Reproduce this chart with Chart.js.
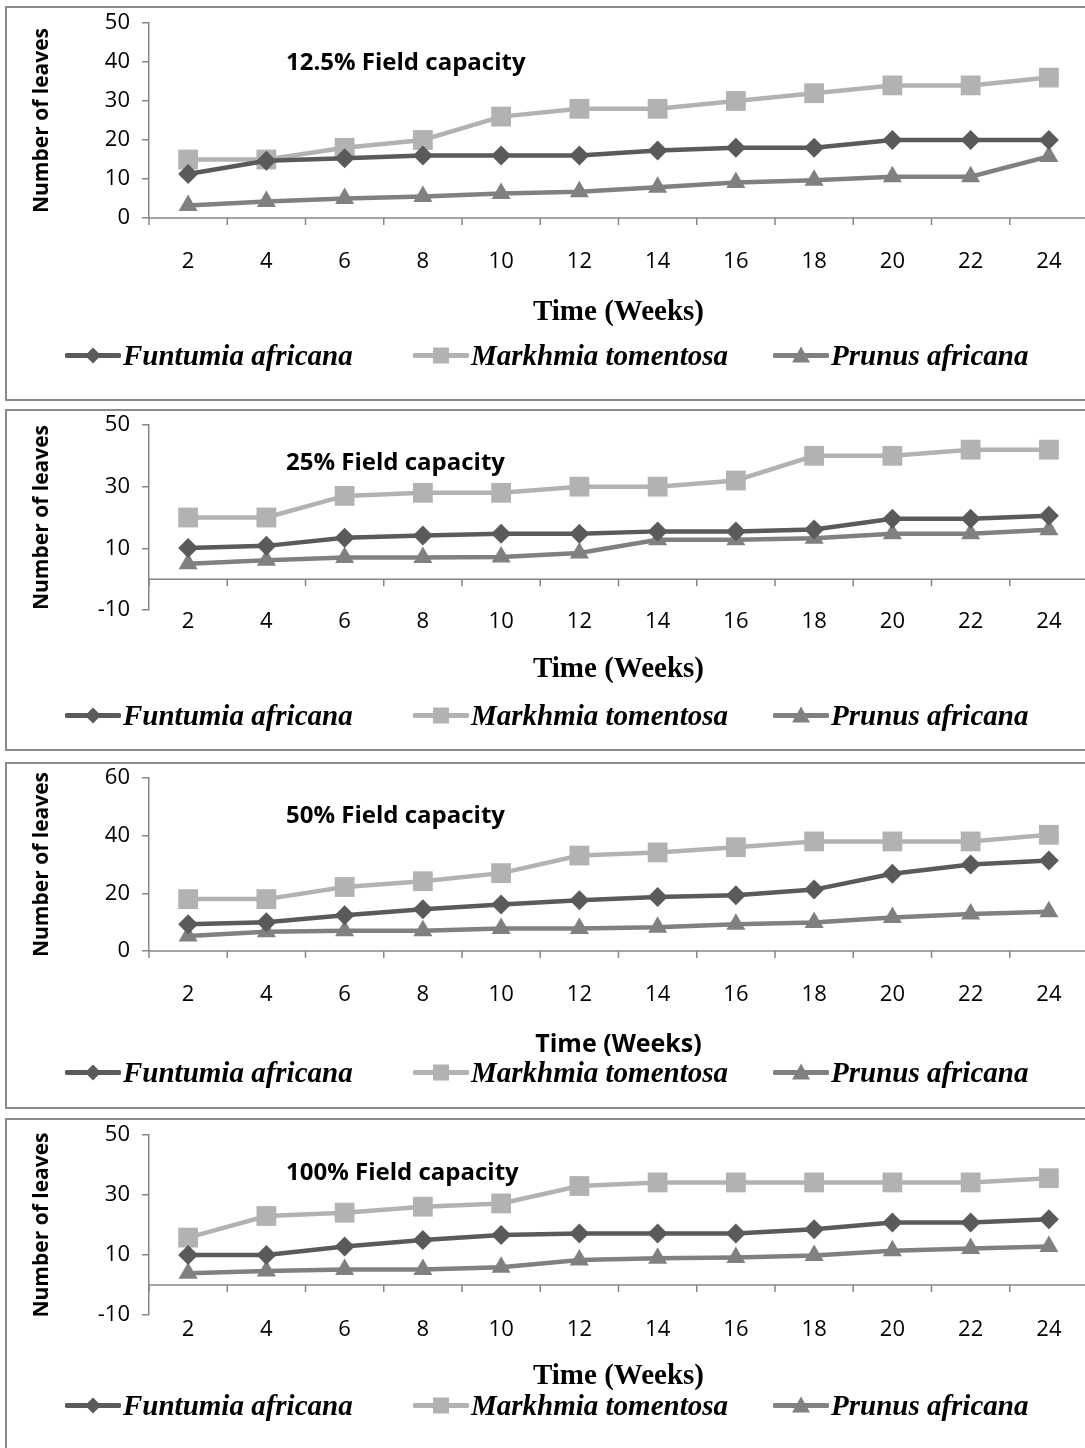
<!DOCTYPE html>
<html>
<head>
<meta charset="utf-8">
<title>Number of leaves at four field capacities</title>
<script src="https://cdn.jsdelivr.net/npm/chart.js@4.4.1/dist/chart.umd.min.js"></script>
<style>
  html, body { margin: 0; padding: 0; background: #fff; overflow: hidden; }
  body { width: 1085px; height: 1448px; position: relative; }
  .panel { position: absolute; left: 5px; width: 1110px; border: 2px solid #8a8a8a; box-sizing: border-box; }
  .panel canvas { position: absolute; left: 0; top: 0; }
  .fc-title { position: absolute; font: bold 24px "Open Sans", sans-serif; color: #000; transform: translateY(-50%); white-space: nowrap; }
  .legend-item { position: absolute; display: flex; align-items: center; transform: translateY(-50%); white-space: nowrap;
                 font: italic bold 29px "Liberation Serif", serif; color: #000; }
  .legend-item svg { margin-right: 2px; }
</style>
</head>
<body>
<div id="charts"></div>
<script>
// week labels on the x axis
const weeks = ['2', '4', '6', '8', '10', '12', '14', '16', '18', '20', '22', '24'];
const speciesNames = ['Funtumia africana', 'Markhmia tomentosa', 'Prunus africana'];

// 12.5% field capacity
const fc125Funtumia = [11.3, 14.7, 15.3, 16, 16, 16, 17.3, 18, 18, 20, 20, 20];
const fc125Markhmia = [15, 15, 18, 20, 26, 28, 28, 30, 32, 34, 34, 36];
const fc125Prunus = [3.2, 4.2, 5, 5.5, 6.3, 6.7, 7.9, 9.1, 9.7, 10.6, 10.6, 15.8];

// 25% field capacity
const fc25Funtumia = [10.1, 10.8, 13.4, 14.2, 14.7, 14.7, 15.5, 15.5, 16.1, 19.6, 19.6, 20.6];
const fc25Markhmia = [20, 20, 27, 28, 28, 30, 30, 32, 40, 40, 42, 42];
const fc25Prunus = [5, 6.1, 7, 7, 7.2, 8.5, 12.8, 12.8, 13.3, 14.7, 14.7, 16];

// 50% field capacity
const fc50Funtumia = [9.3, 10, 12.4, 14.5, 16.1, 17.6, 18.7, 19.3, 21.3, 26.8, 30, 31.4];
const fc50Markhmia = [18, 18, 22.2, 24.2, 27, 33.1, 34.2, 36, 38, 38, 38, 40.3];
const fc50Prunus = [5.2, 6.7, 7, 7, 7.8, 7.8, 8.2, 9.3, 9.9, 11.6, 12.8, 13.6];

// 100% field capacity
const fc100Funtumia = [10, 10, 12.8, 15, 16.7, 17.2, 17.2, 17.2, 18.6, 20.8, 20.8, 21.9];
const fc100Markhmia = [15.8, 23, 24.1, 26.1, 27.2, 33, 34.2, 34.2, 34.2, 34.2, 34.2, 35.6];
const fc100Prunus = [3.9, 4.7, 5.2, 5.2, 5.9, 8.3, 8.9, 9.2, 9.8, 11.4, 12.2, 12.8];

// y axis ranges [min, max, step]
const yRange125 = [0, 50, 10];
const yRange25 = [-10, 50, 20];
const yRange50 = [0, 60, 20];
const yRange100 = [-10, 50, 20];

// series look
const seriesColors = ['#5a5a5a', '#b2b2b2', '#808080'];
const seriesPoints = ['rectRot', 'rect', 'triangle'];
const seriesRadius = [10, 14, 11];
const axisGrey = '#868686';

// page layout of each panel (page pixels)
const panels = [
  { title: '12.5% Field capacity', series: [fc125Funtumia, fc125Markhmia, fc125Prunus], y: yRange125,
    top: 6, bottom: 401, plotTop: 23, plotBottom: 218, tickY: 260, xTitleY: 313, legendY: 355, titleY: 60,
    xTitleFont: { family: 'Liberation Serif', size: 29, weight: 'bold' } },
  { title: '25% Field capacity', series: [fc25Funtumia, fc25Markhmia, fc25Prunus], y: yRange25,
    top: 409, bottom: 751, plotTop: 424, plotBottom: 610, tickY: 620, xTitleY: 670, legendY: 715, titleY: 460,
    xTitleFont: { family: 'Liberation Serif', size: 29, weight: 'bold' } },
  { title: '50% Field capacity', series: [fc50Funtumia, fc50Markhmia, fc50Prunus], y: yRange50,
    top: 762, bottom: 1109, plotTop: 777, plotBottom: 951, tickY: 993, xTitleY: 1045, legendY: 1072, titleY: 813,
    xTitleFont: { family: 'Open Sans', size: 25, weight: 'bold' } },
  { title: '100% Field capacity', series: [fc100Funtumia, fc100Markhmia, fc100Prunus], y: yRange100,
    top: 1118, bottom: 1460, plotTop: 1135, plotBottom: 1315, tickY: 1328, xTitleY: 1377, legendY: 1405, titleY: 1170,
    xTitleFont: { family: 'Liberation Serif', size: 29, weight: 'bold' } }
];

const plotLeft = 149;
const plotRight = 1089;
const originX = 7;           // page x of canvas origin (panel left + border)
const canvasWidth = 1095;
const titleLeft = 286;
const legendLefts = [65, 413, 773];
const tickFont = { family: 'Open Sans', size: 22 };
const yTitleFont = { family: 'Open Sans', size: 21, weight: 'bold' };

// draws the category axis line at y = 0 with the tick marks between categories
const crossAxis = {
  id: 'crossAxis',
  beforeDatasetsDraw(chart) {
    const x = chart.scales.x;
    const y = chart.scales.y;
    const ctx = chart.ctx;
    const y0 = y.getPixelForValue(0);
    ctx.save();
    ctx.strokeStyle = axisGrey;
    ctx.lineWidth = 1.5;
    ctx.beginPath();
    ctx.moveTo(chart.chartArea.left, y0);
    ctx.lineTo(chart.width, y0);
    const step = x.getPixelForValue(1) - x.getPixelForValue(0);
    for (let i = 0; i < weeks.length; i++) {
      const bx = x.getPixelForValue(i) - step / 2;
      ctx.moveTo(bx, y0);
      ctx.lineTo(bx, y0 + 7);
    }
    ctx.stroke();
    ctx.restore();
  }
};

function legendSample(i) {
  const c = seriesColors[i];
  let marker;
  if (i === 0) marker = `<polygon points="28,3 36,11 28,19 20,11" fill="${c}"/>`;
  else if (i === 1) marker = `<rect x="20" y="3" width="16" height="16" fill="${c}"/>`;
  else marker = `<polygon points="28,2 37,18 19,18" fill="${c}"/>`;
  return `<svg width="56" height="22" viewBox="0 0 56 22">
    <line x1="2" y1="11" x2="54" y2="11" stroke="${c}" stroke-width="5" stroke-linecap="round"/>${marker}</svg>`;
}

document.addEventListener('DOMContentLoaded', () => {
  const holder = document.getElementById('charts');

  panels.forEach((p) => {
    const originY = p.top + 2;
    const canvasHeight = p.bottom - p.top - 4;

    const panel = document.createElement('div');
    panel.className = 'panel';
    panel.style.top = p.top + 'px';
    panel.style.height = (p.bottom - p.top) + 'px';
    holder.appendChild(panel);

    const canvas = document.createElement('canvas');
    canvas.width = canvasWidth;
    canvas.height = canvasHeight;
    canvas.style.width = canvasWidth + 'px';
    canvas.style.height = canvasHeight + 'px';
    panel.appendChild(canvas);

    // inner title
    const t = document.createElement('div');
    t.className = 'fc-title';
    t.textContent = p.title;
    t.style.left = (titleLeft - originX) + 'px';
    t.style.top = (p.titleY - originY) + 'px';
    panel.appendChild(t);

    // legend
    speciesNames.forEach((name, i) => {
      const item = document.createElement('div');
      item.className = 'legend-item';
      item.style.left = (legendLefts[i] - originX) + 'px';
      item.style.top = (p.legendY - originY) + 'px';
      item.innerHTML = legendSample(i) + '<span>' + name + '</span>';
      panel.appendChild(item);
    });

    const plotBottomC = p.plotBottom - originY;
    const tickLine = tickFont.size * 1.2;
    const xTitleLine = p.xTitleFont.size * 1.2;
    const yTitleLine = yTitleFont.size * 1.2;

    new Chart(canvas.getContext('2d'), {
      type: 'line',
      data: {
        labels: weeks,
        datasets: speciesNames.map((name, i) => ({
          label: name,
          data: p.series[i],
          borderColor: seriesColors[i],
          backgroundColor: seriesColors[i],
          borderWidth: 4.5,
          pointStyle: seriesPoints[i],
          pointRadius: seriesRadius[i],
          pointBorderWidth: 0,
          tension: 0,
          clip: false
        }))
      },
      options: {
        responsive: false,
        animation: false,
        devicePixelRatio: 1,
        layout: {
          padding: { top: p.plotTop - originY, left: 0, right: canvasWidth - (plotRight - originX), bottom: 0 }
        },
        plugins: { legend: { display: false }, tooltip: { enabled: false } },
        scales: {
          x: {
            type: 'category',
            offset: true,
            grid: { display: false },
            border: { display: false },
            ticks: {
              color: '#000',
              font: tickFont,
              maxRotation: 0,
              autoSkip: false,
              padding: (p.tickY - originY) - plotBottomC - tickLine / 2 - 0.3 * tickFont.size
            },
            title: {
              display: true,
              text: 'Time (Weeks)',
              color: '#000',
              font: p.xTitleFont,
              padding: { top: 0, bottom: canvasHeight - (p.xTitleY - originY) - xTitleLine / 2 }
            },
            afterFit(scale) {
              scale.height = canvasHeight - plotBottomC;
              scale.paddingLeft = 0;
              scale.paddingRight = 0;
            }
          },
          y: {
            min: p.y[0],
            max: p.y[1],
            ticks: { stepSize: p.y[2], color: '#000', font: tickFont, padding: 12 },
            grid: { drawOnChartArea: false, drawTicks: true, tickLength: 7, color: axisGrey, lineWidth: 1.5 },
            border: { display: true, color: axisGrey, width: 1.5 },
            title: {
              display: true,
              text: 'Number of leaves',
              color: '#000',
              font: yTitleFont,
              padding: { top: (42 - originX) - yTitleLine / 2, bottom: 0 }
            },
            afterFit(scale) {
              scale.width = plotLeft - originX;
              scale.paddingTop = 0;
              scale.paddingBottom = 0;
            }
          }
        }
      },
      plugins: [crossAxis]
    });
  });
});
</script>
</body>
</html>
